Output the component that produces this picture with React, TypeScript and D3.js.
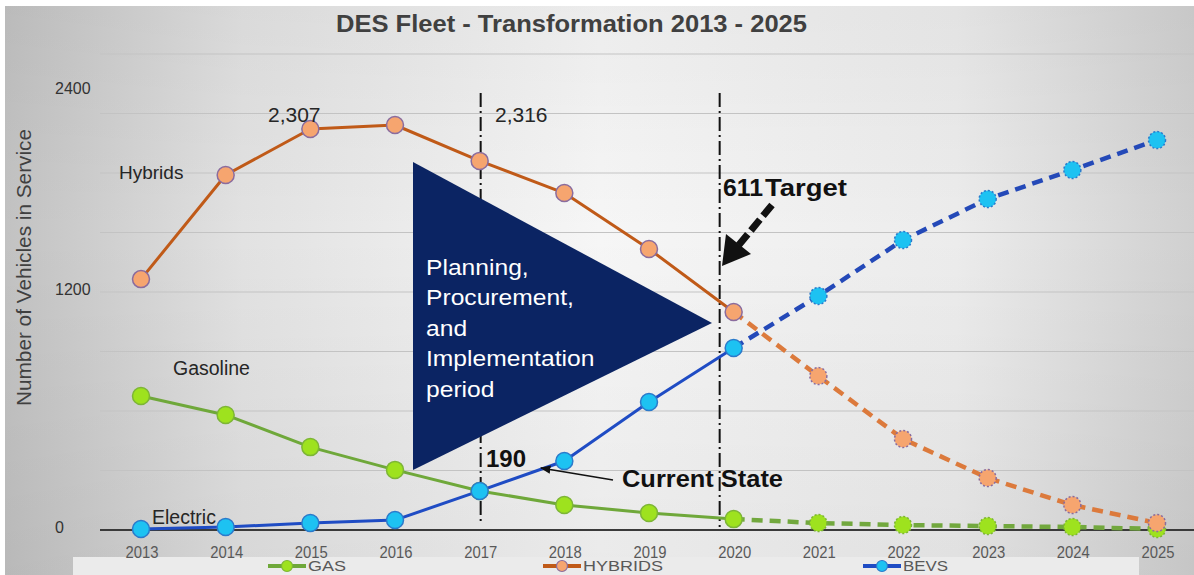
import React from "react";
import * as d3 from "d3";

const years = [2013, 2014, 2015, 2016, 2017, 2018, 2019, 2020, 2021, 2022, 2023, 2024, 2025];
const hybrids = [1265, 1790, 2022, 2042, 1861, 1699, 1417, 1099, 776, 459, 262, 126, 35];
const gas = [676, 580, 418, 303, 197, 126, 86, 55, 35, 25, 20, 15, 5];
const bevs = [5, 15, 35, 50, 197, 348, 645, 918, 1180, 1462, 1669, 1815, 1966];
const yTickLabels = ["0", "1200", "2400"];
const yTickValues = [0, 1200, 2400];
const gridValues = [300, 600, 900, 1200, 1500, 1800, 2100, 2400];
const lastActualYear = 2020;
const legendNames = ["GAS", "HYBRIDS", "BEVS"];
const planText = ["Planning,", "Procurement,", "and", "Implementation", "period"];

const W = 1194;
const H = 575;
const FONT = "'Liberation Sans', Arial, sans-serif";

const x = d3.scaleLinear().domain([2013, 2025]).range([141, 1157]);
const y = d3.scaleLinear().domain([0, 2400]).range([530, 54]);

type Series = {
  name: string;
  values: number[];
  line: string;
  dashLine: string;
  fill: string;
  stroke: string;
};

const series: Series[] = [
  { name: "GAS", values: gas, line: "#6FA83A", dashLine: "#72A83E", fill: "#9EE21E", stroke: "#7DB536" },
  { name: "HYBRIDS", values: hybrids, line: "#C05A18", dashLine: "#DC7A3C", fill: "#F6A56F", stroke: "#8A6C9E" },
  { name: "BEVS", values: bevs, line: "#1F4CC4", dashLine: "#2449B8", fill: "#1DC2F2", stroke: "#2B7ACB" },
];

const lineGen = d3
  .line<[number, number]>()
  .x((d) => x(d[0]))
  .y((d) => y(d[1]));

export default function App() {
  const splitIdx = years.indexOf(lastActualYear);
  const legendX = [287, 562, 882];
  const legendLen = [38, 80, 45];
  return (
    <div style={{ position: "absolute", left: 0, top: 0 }}>
      <svg width={W} height={H} viewBox={`0 0 ${W} ${H}`} style={{ display: "block" }}>
        <defs>
          <linearGradient id="bg" x1="0" y1="0" x2="1" y2="0">
            <stop offset="0%" stopColor="#c2c2c2" />
            <stop offset="20%" stopColor="#e2e2e2" />
            <stop offset="50%" stopColor="#f6f6f6" />
            <stop offset="80%" stopColor="#ececec" />
            <stop offset="100%" stopColor="#d0d0d0" />
          </linearGradient>
          <linearGradient id="bgv" x1="0" y1="0" x2="0" y2="1">
            <stop offset="0%" stopColor="#000" stopOpacity={0.04} />
            <stop offset="40%" stopColor="#000" stopOpacity={0} />
            <stop offset="100%" stopColor="#000" stopOpacity={0.05} />
          </linearGradient>
          <marker id="thinArrow" viewBox="0 0 10 10" refX="9" refY="5" markerWidth="7" markerHeight="7" orient="auto">
            <path d="M0,1 L10,5 L0,9 z" fill="#111" />
          </marker>
        </defs>
        <rect x={0} y={0} width={W} height={H} fill="#ffffff" />
        <rect x={5} y={6} width={W - 5} height={H - 6} fill="url(#bg)" />
        <rect x={5} y={6} width={W - 5} height={H - 6} fill="url(#bgv)" />
        {/* legend band */}
        <rect x={73} y={557} width={1066} height={18} fill="#ebebeb" />

        {/* title */}
        <text
          x={336}
          y={32}
          fontFamily={FONT}
          fontSize={24}
          fontWeight="bold"
          fill="#404040"
          textLength={471}
          lengthAdjust="spacingAndGlyphs"
        >
          DES Fleet - Transformation 2013 - 2025
        </text>

        {/* gridlines */}
        {gridValues.map((v) => (
          <line key={v} x1={100} x2={W} y1={y(v)} y2={y(v)} stroke="#c3c3c3" strokeWidth={1.2} />
        ))}
        {/* axis */}
        <line x1={100} x2={W} y1={y(0)} y2={y(0)} stroke="#3a3a3a" strokeWidth={2} />

        {/* y tick labels */}
        {yTickValues.map((v, i) => (
          <text
            key={v}
            x={55}
            y={y(v) + (v === 2400 ? 40 : 3)}
            fontFamily={FONT}
            fontSize={16}
            fill="#333"
          >
            {yTickLabels[i]}
          </text>
        ))}

        {/* y axis title */}
        <text
          transform={`translate(31,268) rotate(-90)`}
          x={-138}
          y={0}
          fontFamily={FONT}
          fontSize={20}
          fill="#404040"
          textLength={277}
          lengthAdjust="spacingAndGlyphs"
        >
          Number of Vehicles in Service
        </text>

        {/* x tick labels */}
        {years.map((yr) => (
          <text
            key={yr}
            x={x(yr) + 1 - 16.5}
            y={558}
            fontFamily={FONT}
            fontSize={16}
            fill="#595959"
            textLength={33}
            lengthAdjust="spacingAndGlyphs"
          >
            {yr}
          </text>
        ))}

        {/* vertical dash-dot lines */}
        <line x1={x(2017) + 1} x2={x(2017) + 1} y1={93} y2={523} stroke="#111" strokeWidth={2} strokeDasharray="14,4,2,4" />
        <line x1={x(2020) - 14} x2={x(2020) - 14} y1={93} y2={527} stroke="#111" strokeWidth={2} strokeDasharray="14,4,2,4" />

        {/* triangle */}
        <path d="M413,162 L413,470 L712,323 Z" fill="#0B2463" />
        <g transform="translate(426,0) scale(1.12,1)">
          {planText.map((t, i) => (
            <text key={t} x={0} y={275 + i * 30.5} fontFamily={FONT} fontSize={22} fill="#ffffff">
              {t}
            </text>
          ))}
        </g>

        {/* series lines */}
        {series.map((s) => {
          const pts: [number, number][] = years.map((yr, i) => [yr, s.values[i]]);
          const solid = pts.slice(0, splitIdx + 1);
          const dashed = pts.slice(splitIdx);
          return (
            <g key={s.name}>
              <path d={lineGen(solid) || ""} fill="none" stroke={s.line} strokeWidth={3} strokeLinejoin="round" />
              <path d={lineGen(dashed) || ""} fill="none" stroke={s.dashLine} strokeWidth={4.5} strokeDasharray="11,7" />
            </g>
          );
        })}
        {series.map((s) =>
          years.map((yr, i) => (
            <circle
              key={s.name + yr}
              cx={x(yr)}
              cy={y(s.values[i])}
              r={8.5}
              fill={s.fill}
              stroke={s.stroke}
              strokeWidth={1.5}
              strokeDasharray={yr > lastActualYear ? "2,2" : undefined}
            />
          ))
        )}

        {/* series labels */}
        <text x={119} y={179} fontFamily={FONT} fontSize={19} fill="#262626">Hybrids</text>
        <text x={173} y={375} fontFamily={FONT} fontSize={19.5} fill="#262626">Gasoline</text>
        <text x={152} y={524} fontFamily={FONT} fontSize={19.5} fill="#262626">Electric</text>

        {/* annotations */}
        <text x={268} y={122} fontFamily={FONT} fontSize={21} fill="#262626">2,307</text>
        <text x={495} y={122} fontFamily={FONT} fontSize={21} fill="#262626">2,316</text>
        <text x={723} y={196} fontFamily={FONT} fontSize={23} fontWeight="bold" fill="#111" textLength={40} lengthAdjust="spacingAndGlyphs">611</text>
        <text x={765} y={196} fontFamily={FONT} fontSize={23} fontWeight="bold" fill="#111" textLength={82} lengthAdjust="spacingAndGlyphs">Target</text>
        {/* thick dashed arrow */}
        <line x1={772} y1={205} x2={738} y2={246} stroke="#111" strokeWidth={7} strokeDasharray="14,5" />
        <path d="M722,266 L726,234 L751,254 Z" fill="#111" />

        <text x={486} y={467} fontFamily={FONT} fontSize={24} fontWeight="bold" fill="#111">190</text>
        <text x={622} y={487} fontFamily={FONT} fontSize={24} fontWeight="bold" fill="#111" textLength={161} lengthAdjust="spacingAndGlyphs">Current State</text>
        <line x1={613} y1={480} x2={541} y2={468} stroke="#111" strokeWidth={1.5} markerEnd="url(#thinArrow)" />

        {/* legend */}
        {series.map((s, i) => {
          const cx = legendX[i];
          return (
            <g key={"lg" + s.name}>
              <line x1={cx - 19} x2={cx + 19} y1={566} y2={566} stroke={s.line} strokeWidth={4} />
              <circle cx={cx} cy={566} r={5.5} fill={s.fill} stroke={s.stroke} strokeWidth={1.2} />
              <text
                x={cx + 21}
                y={571}
                fontFamily={FONT}
                fontSize={14.5}
                fill="#595959"
                textLength={legendLen[i]}
                lengthAdjust="spacingAndGlyphs"
              >
                {legendNames[i]}
              </text>
            </g>
          );
        })}
      </svg>
    </div>
  );
}
